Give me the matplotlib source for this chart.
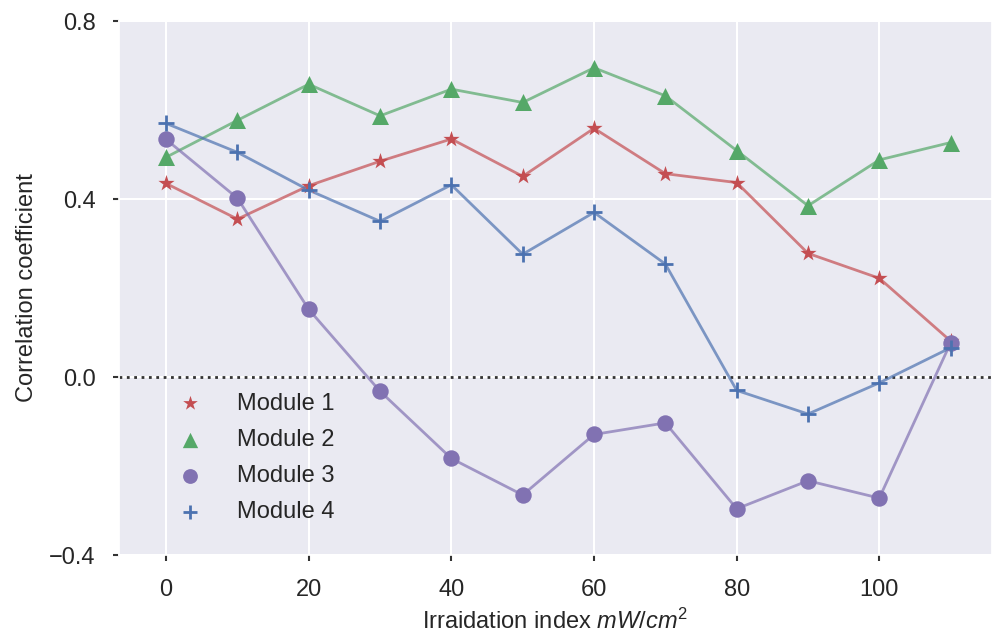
import matplotlib
matplotlib.use("Agg")
import matplotlib.pyplot as plt
import seaborn as sns

sns.set_theme(style="darkgrid")
plt.rcParams["font.family"] = ["Liberation Sans", "DejaVu Sans"]
plt.rcParams["mathtext.fontset"] = "custom"
plt.rcParams["mathtext.it"] = "Liberation Sans:italic"
plt.rcParams["mathtext.rm"] = "Liberation Sans"

irradiation = [0, 10, 20, 30, 40, 50, 60, 70, 80, 90, 100, 110]
module1 = [0.435, 0.355, 0.430, 0.485, 0.535, 0.451, 0.559, 0.457, 0.437, 0.278, 0.222, 0.081]
module2 = [0.494, 0.577, 0.658, 0.587, 0.647, 0.617, 0.695, 0.632, 0.509, 0.385, 0.488, 0.527]
module3 = [0.534, 0.402, 0.152, -0.032, -0.183, -0.265, -0.129, -0.103, -0.296, -0.233, -0.272, 0.077]
module4 = [0.570, 0.505, 0.420, 0.350, 0.432, 0.276, 0.370, 0.254, -0.030, -0.083, -0.013, 0.066]
labels = ["Module 1", "Module 2", "Module 3", "Module 4"]
yticks = [-0.4, 0.0, 0.4, 0.8]
xticks = [0, 20, 40, 60, 80, 100]

series = [module1, module2, module3, module4]
colors = ["#C44E52", "#55A868", "#8172B2", "#4C72B0"]
markers = ["*", "^", "o", "+"]
sizes = [150, 150, 140, 130]

fig = plt.figure(figsize=(9.92, 6.38), dpi=100)
ax = fig.add_axes([0.12, 0.13, 0.88, 0.837])

ax.axhline(0, color="#333333", linestyle=":", linewidth=2, zorder=1)

for vals, c, m, s, lab in zip(series, colors, markers, sizes, labels):
    ax.plot(irradiation, vals, color=c, alpha=0.7, linewidth=2, zorder=2)
    ax.scatter(irradiation, vals, color=c, marker=m, s=s, label=lab,
               linewidths=2 if m == "+" else 0, zorder=3)

ax.set_xlim(-6.6, 115.8)
ax.set_ylim(-0.4, 0.8)
ax.set_xticks(xticks)
ax.set_yticks(yticks)
ax.set_yticklabels([f"{v:.1f}".replace("-", "\u2212") for v in yticks])
ax.tick_params(axis="both", bottom=True, left=True, labelsize=17, length=4, width=1.5,
               color="#333333", labelcolor="#262626", pad=13)
ax.grid(color="white", linewidth=1.5)

ax.set_xlabel(r"Irraidation index $mW/cm^2$", fontsize=17, color="#262626", labelpad=6)
ax.set_ylabel("Correlation coefficient", fontsize=17, color="#262626", labelpad=8)

ax.legend(loc="upper left", bbox_to_anchor=(0.0435, 0.322), borderaxespad=0,
          frameon=False, fontsize=17, scatterpoints=1, markerscale=0.9,
          handletextpad=1.0, labelspacing=0.6)

fig.savefig("out.png", dpi=100)
